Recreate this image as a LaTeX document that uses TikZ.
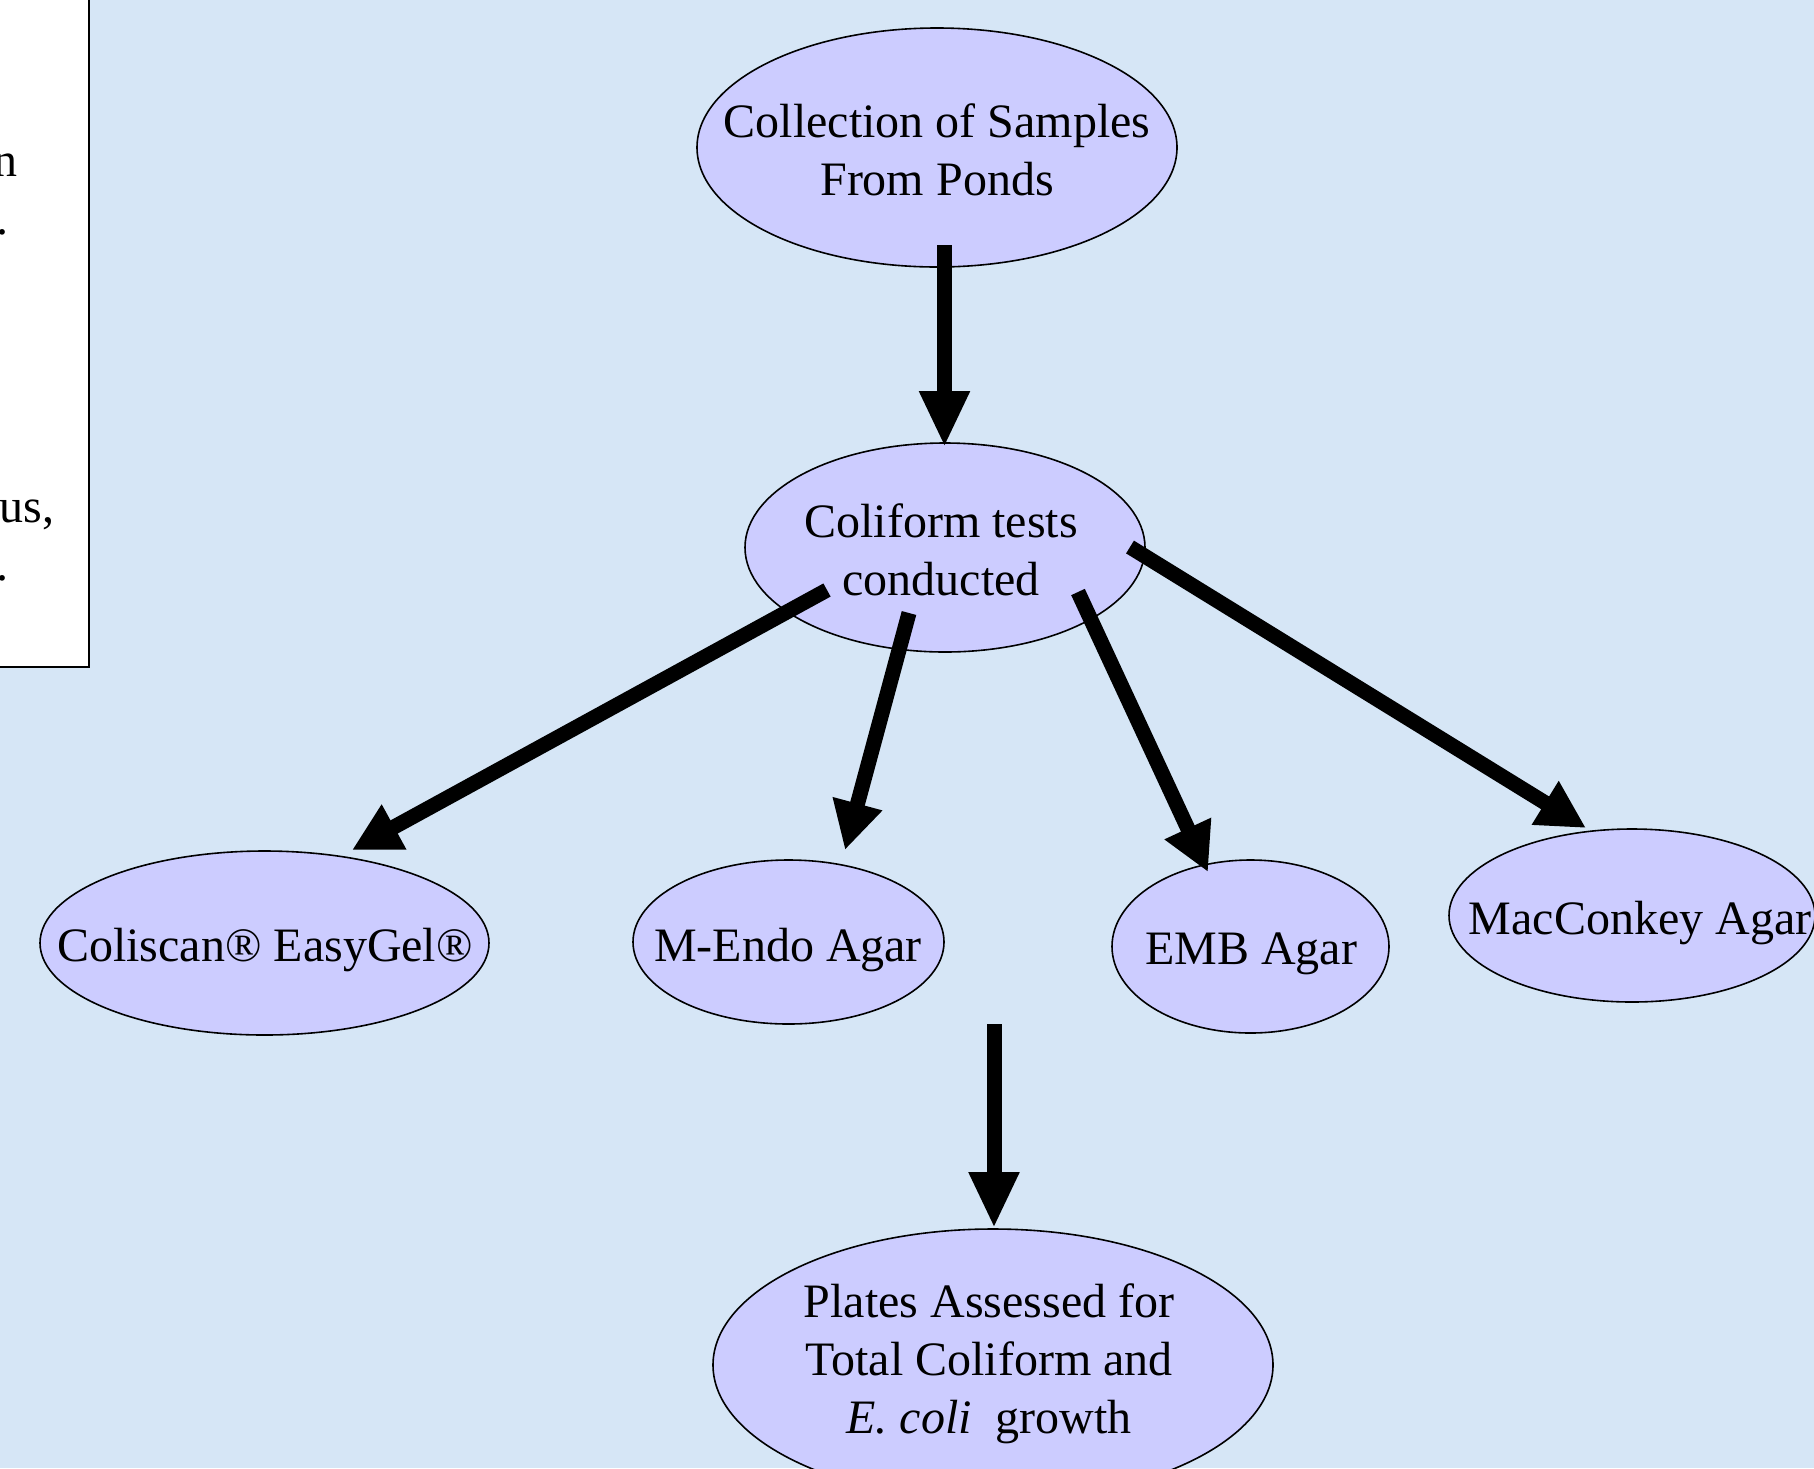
\documentclass[tikz,border=0pt]{standalone}
\usepackage{fontspec}
\setmainfont{Liberation Serif}
\usetikzlibrary{shapes.geometric,arrows.meta,calc}
\definecolor{bgblue}{RGB}{214,230,246}
\definecolor{lav}{RGB}{204,204,255}
\begin{document}
\begin{tikzpicture}[x=0.5pt,y=-0.5pt,
  oval/.style={ellipse,draw=black,line width=0.8pt,fill=lav,inner sep=0pt},
  txt/.style={align=center,inner sep=0pt,font=\fontsize{24pt}{28.9pt}\selectfont},
  bigarrow/.style={line width=7.5pt,-{Triangle[length=24pt,width=24pt]}},
  vertarrow/.style={line width=7.5pt,-{Triangle[length=28pt,width=23.5pt]}},
  frag/.style={anchor=base east,inner sep=0pt,font=\fontsize{24pt}{28.9pt}\selectfont}]
\useasboundingbox (0,0) rectangle (1814,1468);
\fill[bgblue] (0,0) rectangle (1814,1468);
% left text box (mostly outside the picture)
\draw[fill=white,line width=1pt] (-20,-20) rectangle (89,667);
\node[frag] (f1) at (18,176) {n};
\node[frag] (f2) at (9,234) {.};
\node[frag] (f3) at (55,522) {us,};
\node[frag] (f4) at (9,580) {.};
% ovals
\node[oval,minimum width=240pt,minimum height=119.5pt] (coll) at (937,147.5) {};
\node[txt] (collT) at (937,150) {Collection of Samples\\From Ponds};
\node[oval,minimum width=200pt,minimum height=104.5pt] (tests) at (945,547.5) {};
\node[txt] (testsT) at (941,550) {Coliform tests\\conducted};
\node[oval,minimum width=224.5pt,minimum height=92pt] (coliscan) at (264.5,943) {};
\node[txt] (coliscanT) at (265,950) {Coliscan® EasyGel®};
\node[oval,minimum width=155.5pt,minimum height=82pt] (mendo) at (788.5,942) {};
\node[txt] (mendoT) at (788,950) {M-Endo Agar};
\node[oval,minimum width=138.5pt,minimum height=86.5pt] (emb) at (1250.5,946.5) {};
\node[txt] (embT) at (1251,954) {EMB Agar};
\node[oval,minimum width=183pt,minimum height=86.5pt] (mac) at (1632,915.5) {};
\node[txt] (macT) at (1640,923) {MacConkey Agar};
\node[oval,minimum width=280pt,minimum height=136pt] (plates) at (993,1365) {};
\node[txt] (platesT) at (989,1364) {Plates Assessed for\\Total Coliform and\\\textit{E. coli}\ \ growth};
% arrows
\draw[vertarrow] ($(coll.center)+(7.5,97.5)$) -- ($(tests.center)+(-0.5,-100.5)$);
\draw[bigarrow] ($(tests.center)+(-118,42.5)$) -- ($(coliscan.center)+(87.5,-93)$);
\draw[bigarrow] ($(tests.center)+(-36,65.5)$) -- ($(mendo.center)+(56.5,-92)$);
\draw[bigarrow] ($(tests.center)+(133,44.5)$) -- ($(emb.center)+(-42.5,-74.5)$);
\draw[bigarrow] ($(tests.center)+(185,-0.5)$) -- ($(mac.center)+(-46,-87.5)$);
\coordinate (pstart) at ($(plates.center)+(1,-341)$);
\draw[vertarrow] (pstart) -- ($(plates.center)+(1,-137)$);
\end{tikzpicture}
\end{document}
